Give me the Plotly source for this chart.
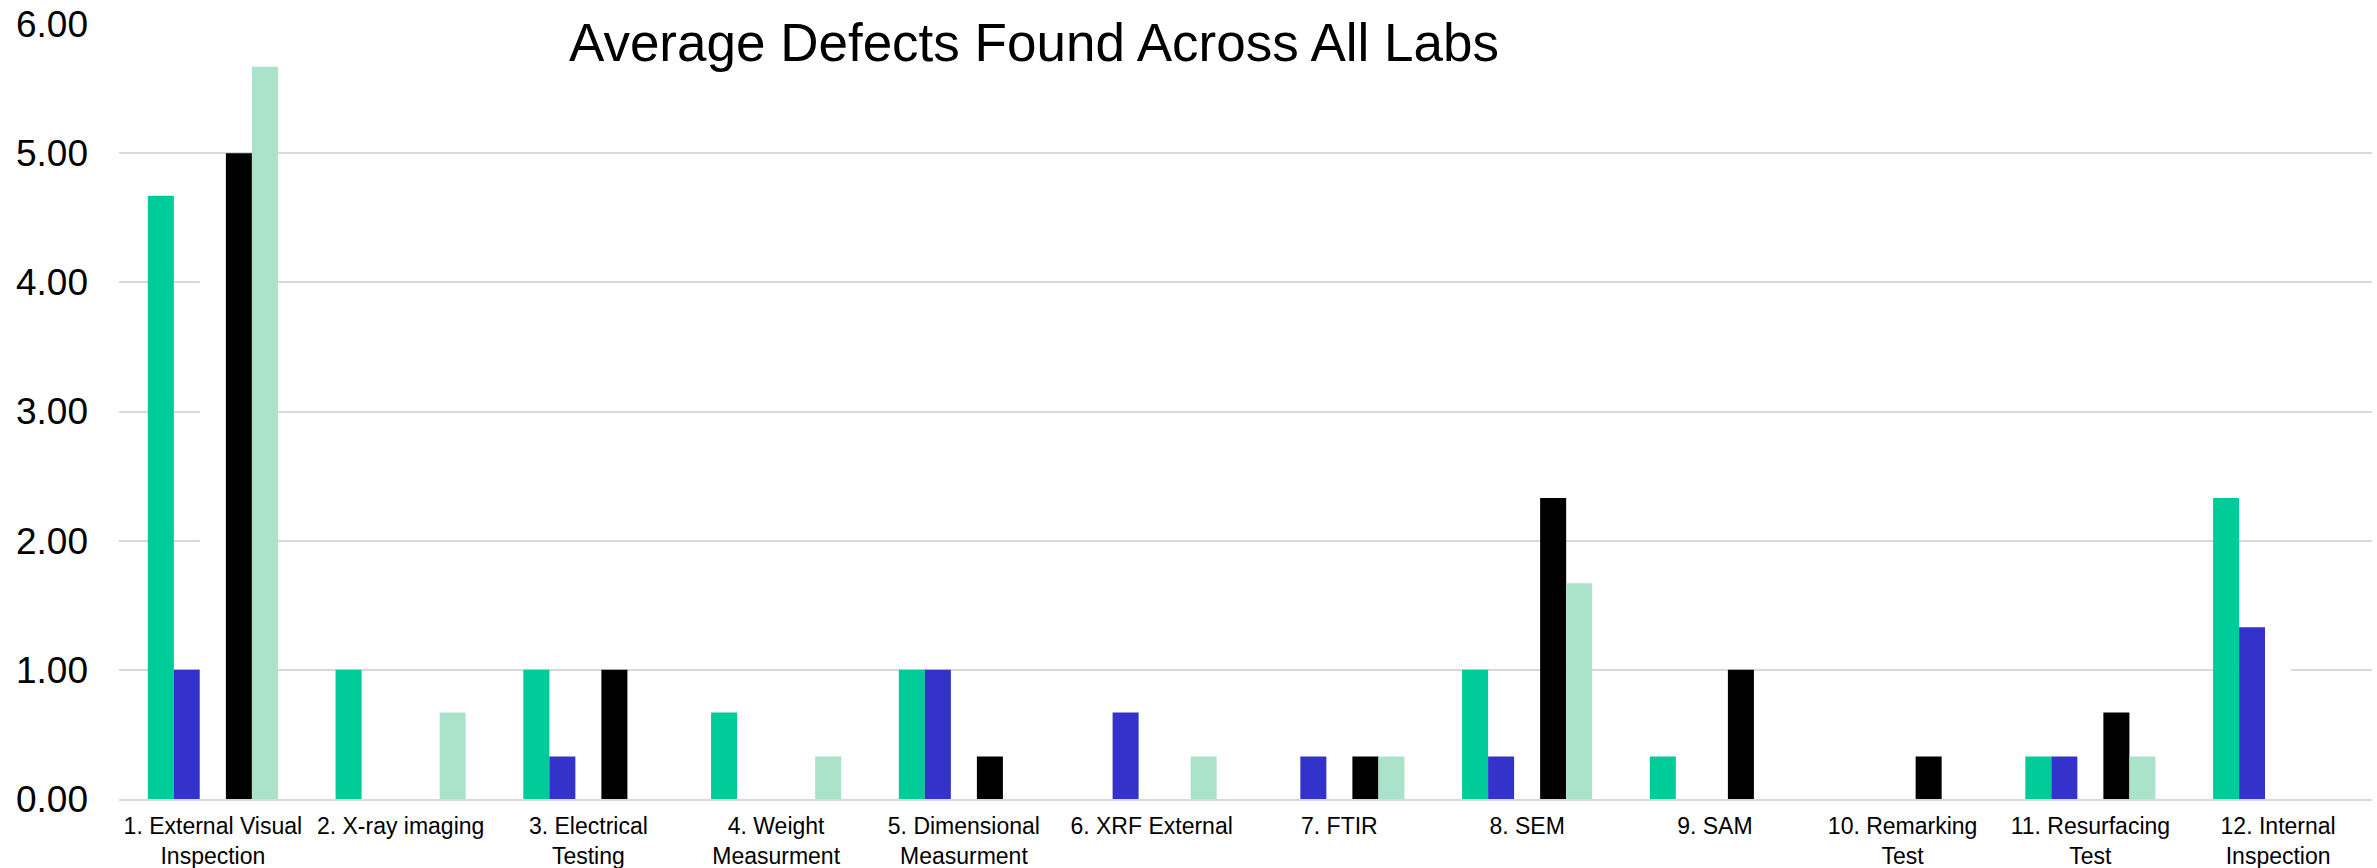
import plotly.graph_objects as go

# Test categories on the x axis
categories = [
    "1. External Visual<br>Inspection",
    "2. X-ray imaging",
    "3. Electrical<br>Testing",
    "4. Weight<br>Measurment",
    "5. Dimensional<br>Measurment",
    "6. XRF External",
    "7. FTIR",
    "8. SEM",
    "9. SAM",
    "10. Remarking<br>Test",
    "11. Resurfacing<br>Test",
    "12. Internal<br>Inspection",
]

# Average defects per lab
lab_1 = [4.67, 1.00, 1.00, 0.67, 1.00, 0.00, 0.00, 1.00, 0.33, 0.00, 0.33, 2.33]
lab_2 = [1.00, 0.00, 0.33, 0.00, 1.00, 0.67, 0.33, 0.33, 0.00, 0.00, 0.33, 1.33]
lab_3 = [4.33, 0.00, 0.00, 0.00, 0.00, 0.00, 0.00, 0.00, 0.00, 0.00, 0.00, 1.67]
lab_4 = [5.00, 0.00, 1.00, 0.00, 0.33, 0.00, 0.33, 2.33, 1.00, 0.33, 0.67, 0.00]
lab_5 = [5.67, 0.67, 0.00, 0.33, 0.00, 0.33, 0.33, 1.67, 0.00, 0.00, 0.33, 0.00]

series = [
    ("Lab 1", lab_1, "#00CC99"),
    ("Lab 2", lab_2, "#3333CC"),
    ("Lab 3", lab_3, "#FFFFFF"),
    ("Lab 4", lab_4, "#000000"),
    ("Lab 5", lab_5, "#ABE3CA"),
]

W, H = 2377, 868
L, R, T, B = 119, 5, 24, 69
plot_w = W - L - R

fig = go.Figure()
for name, vals, color in series:
    fig.add_trace(go.Bar(
        x=categories, y=vals, name=name,
        marker=dict(color=color, line=dict(width=0)),
    ))

fig.update_layout(
    width=W, height=H,
    margin=dict(l=L, r=R, t=T, b=B, autoexpand=False),
    barmode="group", bargap=0.307, bargroupgap=0,
    plot_bgcolor="white", paper_bgcolor="white",
    showlegend=False,
    font=dict(family="Liberation Sans, Arial, sans-serif", color="black"),
)

fig.update_yaxes(
    range=[0, 6], dtick=1, tickformat=".2f",
    showgrid=True, gridcolor="#D9D9D9", gridwidth=2,
    zeroline=False, showline=False, ticks="",
    tickfont=dict(size=37, color="black"),
    ticklabelstandoff=30, automargin=False,
)
fig.update_xaxes(
    showgrid=False, showline=True, linecolor="#D9D9D9", linewidth=2,
    ticks="", tickfont=dict(size=23, color="black"),
    ticklabelstandoff=5, automargin=False,
)

# white panel behind the title, interrupting the top gridline
fig.add_shape(
    type="rect", xref="paper", yref="paper",
    x0=(548 - L) / plot_w, x1=(1883 - L) / plot_w,
    y0=0.95, y1=1.05,
    fillcolor="white", line=dict(width=0), layer="above",
)
fig.add_annotation(
    text="Average Defects Found Across All Labs",
    xref="paper", yref="paper",
    x=(567 - L) / plot_w, y=0.976,
    xanchor="left", yanchor="middle",
    showarrow=False,
    font=dict(size=53, color="black"),
)

fig.write_html("out.html")
